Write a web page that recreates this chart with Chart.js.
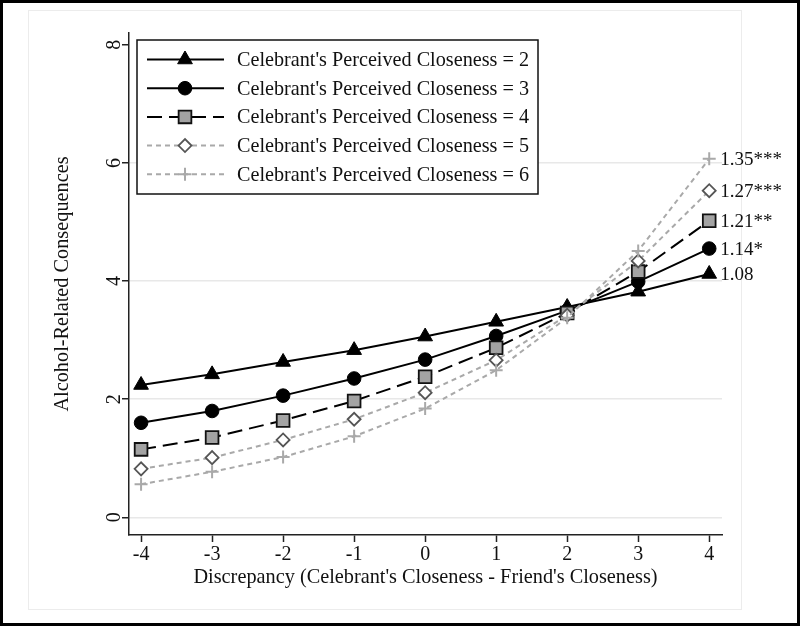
<!DOCTYPE html>
<html>
<head>
<meta charset="utf-8">
<script src="https://cdn.jsdelivr.net/npm/chart.js@4.4.1/dist/chart.umd.min.js"></script>
<style>
  html, body { margin: 0; padding: 0; background: #fff; }
  #wrap { position: relative; width: 800px; height: 626px; overflow: hidden; }
  #region { position: absolute; left: 28px; top: 10px; width: 714px; height: 600px; border: 1px solid #ececec; box-sizing: border-box; }
  #chart { position: absolute; left: 0; top: 0; }
  #frame { position: absolute; left: 0; top: 0; width: 800px; height: 626px; border: 3px solid #000; box-sizing: border-box; pointer-events: none; }
</style>
</head>
<body>
<div id="wrap">
  <div id="region"></div>
  <canvas id="chart" width="800" height="626"></canvas>
  <div id="frame"></div>
</div>
<script>
// values
const discrepancy = [-4, -3, -2, -1, 0, 1, 2, 3, 4];
const close2 = [2.24, 2.42, 2.63, 2.83, 3.06, 3.31, 3.56, 3.82, 4.12];
const close3 = [1.60, 1.80, 2.06, 2.35, 2.67, 3.07, 3.50, 3.99, 4.55];
const close4 = [1.15, 1.35, 1.64, 1.97, 2.38, 2.87, 3.46, 4.16, 5.02];
const close5 = [0.82, 1.01, 1.31, 1.66, 2.11, 2.66, 3.42, 4.34, 5.53];
const close6 = [0.56, 0.77, 1.02, 1.37, 1.84, 2.49, 3.38, 4.51, 6.07];
const seriesNames = [
    "Celebrant's Perceived Closeness = 2",
    "Celebrant's Perceived Closeness = 3",
    "Celebrant's Perceived Closeness = 4",
    "Celebrant's Perceived Closeness = 5",
    "Celebrant's Perceived Closeness = 6"
];
const endLabels = ['1.08', '1.14*', '1.21**', '1.27***', '1.35***'];
const yTickValues = [0, 2, 4, 6, 8];

const FONT = "'Liberation Serif', 'Times New Roman', serif";
Chart.defaults.font.family = FONT;
Chart.defaults.color = '#111';

const toPoints = vals => discrepancy.map((x, i) => ({ x: x, y: vals[i] }));

const styles = [
    { color: '#000', dash: [], pointStyle: 'triangle', radius: 8.5, fill: '#000', border: '#000', bw: 1 },
    { color: '#000', dash: [], pointStyle: 'circle', radius: 6.8, fill: '#000', border: '#000', bw: 1 },
    { color: '#000', dash: [15, 7], pointStyle: 'rect', radius: 9, fill: '#a3a3a3', border: '#111', bw: 1.8 },
    { color: '#a9a9a9', dash: [5, 4], pointStyle: 'rectRot', radius: 6.5, fill: '#fff', border: '#555', bw: 1.8 },
    { color: '#a9a9a9', dash: [5, 4], pointStyle: 'cross', radius: 6.5, fill: '#a9a9a9', border: '#a9a9a9', bw: 2 }
];

const allSeries = [close2, close3, close4, close5, close6];

const datasets = allSeries.map((vals, i) => ({
    label: seriesNames[i],
    data: toPoints(vals),
    borderColor: styles[i].color,
    borderWidth: 2,
    borderDash: styles[i].dash,
    pointStyle: styles[i].pointStyle,
    pointRadius: styles[i].radius,
    pointBackgroundColor: styles[i].fill,
    pointBorderColor: styles[i].border,
    pointBorderWidth: styles[i].bw,
    tension: 0,
    fill: false,
    order: 4 - i // later series drawn on top
}));

function drawMarker(ctx, st, x, y) {
    ctx.save();
    ctx.setLineDash([]);
    ctx.fillStyle = st.fill;
    ctx.strokeStyle = st.border;
    ctx.lineWidth = st.bw;
    Chart.helpers.drawPoint(ctx, { pointStyle: st.pointStyle, radius: st.radius, rotation: 0, borderWidth: st.bw }, x, y);
    ctx.restore();
}

const extrasPlugin = {
    id: 'extras',
    afterDraw(chart) {
        const ctx = chart.ctx;
        const area = chart.chartArea;
        const yScale = chart.scales.y;

        // rotated y tick labels
        ctx.save();
        ctx.fillStyle = '#111';
        ctx.font = '20px ' + FONT;
        ctx.textAlign = 'center';
        ctx.textBaseline = 'middle';
        yTickValues.forEach(v => {
            const py = yScale.getPixelForValue(v);
            ctx.save();
            ctx.translate(area.left - 14, py);
            ctx.rotate(-Math.PI / 2);
            ctx.fillText(String(v), 0, 0);
            ctx.restore();
        });
        ctx.restore();

        // labels at the end of each line
        ctx.save();
        ctx.fillStyle = '#111';
        ctx.font = '19px ' + FONT;
        ctx.textAlign = 'left';
        ctx.textBaseline = 'middle';
        chart.data.datasets.forEach((ds, i) => {
            const meta = chart.getDatasetMeta(i);
            const last = meta.data[meta.data.length - 1];
            ctx.fillText(endLabels[i], last.x + 11, last.y + 1);
        });
        ctx.restore();

        // legend box
        const bx = area.left + 8, by = area.top + 7, bw = 401, bh = 154;
        ctx.save();
        ctx.fillStyle = '#fff';
        ctx.fillRect(bx, by, bw, bh);
        ctx.strokeStyle = '#111';
        ctx.lineWidth = 1.5;
        ctx.strokeRect(bx, by, bw, bh);
        ctx.font = '20.2px ' + FONT;
        ctx.textBaseline = 'middle';
        ctx.textAlign = 'left';
        seriesNames.forEach((name, i) => {
            const st = styles[i];
            const ry = by + 19.5 + i * 28.7;
            ctx.save();
            ctx.strokeStyle = st.color;
            ctx.lineWidth = 2;
            ctx.setLineDash(st.dash);
            ctx.beginPath();
            ctx.moveTo(bx + 10, ry);
            ctx.lineTo(bx + 87, ry);
            ctx.stroke();
            ctx.restore();
            drawMarker(ctx, st, bx + 48, ry);
            ctx.fillStyle = '#111';
            ctx.fillText(name, bx + 100, ry + 1);
        });
        ctx.restore();
    }
};

new Chart(document.getElementById('chart'), {
    type: 'line',
    data: { datasets: datasets },
    options: {
        responsive: false,
        animation: false,
        layout: { padding: { top: 33, right: 78, left: 0, bottom: 0 } },
        plugins: {
            legend: { display: false },
            tooltip: { enabled: false }
        },
        scales: {
            x: {
                type: 'linear',
                min: -4.17,
                max: 4.18,
                afterFit: s => { s.height = 91; },
                ticks: {
                    stepSize: 1,
                    includeBounds: false,
                    maxRotation: 0,
                    padding: 1,
                    color: '#111',
                    font: { size: 20 },
                    callback: v => String(v)
                },
                grid: { drawOnChartArea: false, tickColor: '#222', tickLength: 7, tickWidth: 1.5 },
                border: { color: '#222', width: 1.5 },
                title: {
                    display: true,
                    text: "Discrepancy (Celebrant's Closeness - Friend's Closeness)",
                    color: '#111',
                    font: { size: 20.3 },
                    padding: { bottom: 36 }
                }
            },
            y: {
                type: 'linear',
                min: -0.3,
                max: 8.2,
                afterFit: s => { s.width = 129; },
                ticks: { stepSize: 2, includeBounds: false, display: false },
                grid: {
                    color: c => (c.tick && c.tick.value === 8) ? 'rgba(0,0,0,0)' : '#e8e8e8',
                    lineWidth: 1.5,
                    tickColor: '#222',
                    tickLength: 7,
                    tickWidth: 1.5
                },
                border: { color: '#222', width: 1.5 },
                title: {
                    display: true,
                    text: 'Alcohol-Related Consequences',
                    color: '#111',
                    font: { size: 20.3 },
                    padding: { top: 50 }
                }
            }
        }
    },
    plugins: [extrasPlugin]
});
</script>
</body>
</html>
